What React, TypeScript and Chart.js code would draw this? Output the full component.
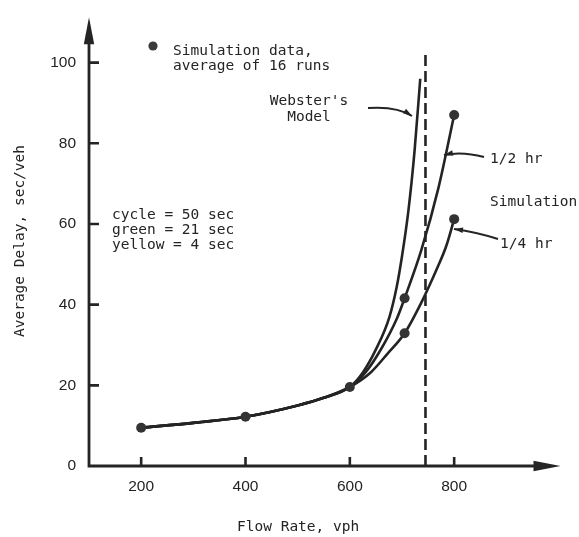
import React, { useEffect, useRef } from "react";
import { Chart, registerables } from "chart.js";

Chart.register(...registerables);

// Simulated average delay (sec/veh) against flow rate (vph), average of 16 runs
const simFlow = [200, 400, 600, 705, 705, 800, 800];
const simDelay = [9.5, 12.2, 19.6, 41.6, 32.9, 87, 61.2];

// Common low-flow part of every delay curve
const baseFlow = [200, 300, 400, 500, 550, 600];
const baseDelay = [9.5, 10.7, 12.2, 15.0, 16.9, 19.6];

// Branches above 600 vph
const websterFlow = [625, 650, 676, 690, 700, 712, 724, 735];
const websterDelay = [23.2, 28.9, 37, 44.5, 52, 63, 78, 96];

const halfHourFlow = [630, 660, 690, 705, 737, 770, 800];
const halfHourDelay = [23.2, 29, 36.5, 41.6, 53.5, 69, 87];

const quarterHourFlow = [640, 672, 705, 737, 769, 785, 800];
const quarterHourDelay = [23.2, 27.8, 32.9, 40.5, 49.5, 54.6, 61.2];

// Capacity flow (dashed vertical)
const capacityFlow = [745, 745];
const capacityDelay = [0, 102];

const xTicks = [200, 400, 600, 800];
const yTicks = [0, 20, 40, 60, 80, 100];

const ink = "#242424";
const monoFont = '"DejaVu Sans Mono", "Liberation Mono", monospace';
const tickFont = '"Liberation Sans", Arial, sans-serif';

const toPoints = (xs: number[], ys: number[]) => xs.map((x, i) => ({ x, y: ys[i] }));

function arrowHead(ctx: CanvasRenderingContext2D, tx: number, ty: number, fx: number, fy: number, len: number, half: number) {
  const a = Math.atan2(ty - fy, tx - fx);
  const bx = tx - len * Math.cos(a);
  const by = ty - len * Math.sin(a);
  ctx.beginPath();
  ctx.moveTo(tx, ty);
  ctx.lineTo(bx + half * Math.sin(a), by - half * Math.cos(a));
  ctx.lineTo(bx - half * Math.sin(a), by + half * Math.cos(a));
  ctx.closePath();
  ctx.fill();
}

function curvedArrow(ctx: CanvasRenderingContext2D, sx: number, sy: number, cx: number, cy: number, tx: number, ty: number) {
  ctx.beginPath();
  ctx.moveTo(sx, sy);
  ctx.quadraticCurveTo(cx, cy, tx, ty);
  ctx.stroke();
  arrowHead(ctx, tx, ty, cx, cy, 9, 2.8);
}

const figureDecorations = {
  id: "figureDecorations",
  afterDraw(chart: any) {
    const { ctx, chartArea, scales } = chart;
    const xs = scales.x;
    const ys = scales.y;
    const left = chartArea.left;
    const bottom = chartArea.bottom;
    ctx.save();
    ctx.strokeStyle = ink;
    ctx.fillStyle = ink;

    // Axes with arrowheads
    ctx.lineWidth = 2.8;
    const yTip = chartArea.top - 5;
    const xTip = chartArea.right + 2;
    ctx.beginPath();
    ctx.moveTo(left, bottom + 1.4);
    ctx.lineTo(left, yTip + 20);
    ctx.moveTo(left - 1.4, bottom);
    ctx.lineTo(xTip - 20, bottom);
    ctx.stroke();
    arrowHead(ctx, left, yTip, left, yTip + 30, 27, 5.2);
    arrowHead(ctx, xTip, bottom, xTip - 30, bottom, 27, 5.2);

    // Inward tick marks
    ctx.lineWidth = 2.6;
    ctx.beginPath();
    yTicks.forEach((v) => {
      if (v === 0) return;
      const py = ys.getPixelForValue(v);
      ctx.moveTo(left, py);
      ctx.lineTo(left + 10, py);
    });
    xTicks.forEach((v) => {
      const px = xs.getPixelForValue(v);
      ctx.moveTo(px, bottom);
      ctx.lineTo(px, bottom - 9);
    });
    ctx.stroke();

    // Axis titles
    ctx.font = `14.5px ${monoFont}`;
    ctx.textBaseline = "alphabetic";
    ctx.textAlign = "left";
    ctx.fillText("Flow Rate, vph", 237, 531);
    ctx.save();
    ctx.translate(23.5, 241);
    ctx.rotate(-Math.PI / 2);
    ctx.textAlign = "center";
    ctx.fillText("Average Delay, sec/veh", 0, 0);
    ctx.restore();

    // Legend
    ctx.beginPath();
    ctx.arc(153, 46, 4.6, 0, Math.PI * 2);
    ctx.fillStyle = "#3a3a3a";
    ctx.fill();
    ctx.fillStyle = ink;
    ctx.fillText("Simulation data,", 173, 55);
    ctx.fillText("average of 16 runs", 173, 69.5);

    // Signal timing note
    ctx.fillText("cycle = 50 sec", 112, 219);
    ctx.fillText("green = 21 sec", 112, 234);
    ctx.fillText("yellow = 4 sec", 112, 249);

    // Curve labels
    ctx.textAlign = "center";
    ctx.fillText("Webster's", 309, 105);
    ctx.fillText("Model", 309, 121);
    ctx.textAlign = "left";
    ctx.fillText("1/2 hr", 490, 163);
    ctx.fillText("Simulation", 490, 205.5);
    ctx.fillText("1/4 hr", 500, 248);

    // Pointer arrows
    ctx.lineWidth = 2;
    curvedArrow(ctx, 368, 108, 397, 106, 412, 116);
    curvedArrow(ctx, 484, 157, 462, 151, 444, 155);
    curvedArrow(ctx, 498, 239, 476, 232, 454, 229);

    ctx.restore();
  },
};

export default function App() {
  const canvasRef = useRef<HTMLCanvasElement | null>(null);

  useEffect(() => {
    const canvas = canvasRef.current;
    if (!canvas) return;

    const curve = (xs: number[], ys: number[]) => ({
      data: toPoints(baseFlow.concat(xs), baseDelay.concat(ys)),
      showLine: true,
      borderColor: ink,
      borderWidth: 2.6,
      pointRadius: 0,
      cubicInterpolationMode: "monotone" as const,
    });

    const chart = new Chart(canvas, {
      type: "scatter",
      data: {
        datasets: [
          {
            label: "Simulation data",
            data: toPoints(simFlow, simDelay),
            showLine: false,
            pointRadius: 5,
            pointBackgroundColor: "#333333",
            pointBorderColor: "#333333",
            pointBorderWidth: 0,
          },
          { label: "Webster's Model", ...curve(websterFlow, websterDelay) },
          { label: "1/2 hr", ...curve(halfHourFlow, halfHourDelay) },
          { label: "1/4 hr", ...curve(quarterHourFlow, quarterHourDelay) },
          {
            label: "Capacity",
            data: toPoints(capacityFlow, capacityDelay),
            showLine: true,
            borderColor: ink,
            borderWidth: 2.6,
            borderDash: [11, 5],
            pointRadius: 0,
          },
        ],
      },
      options: {
        animation: false,
        responsive: false,
        devicePixelRatio: 1,
        layout: { padding: { top: 11.7, right: 20.5, left: 0, bottom: 0 } },
        plugins: {
          legend: { display: false },
          tooltip: { enabled: false },
        },
        scales: {
          x: {
            type: "linear",
            min: 100,
            max: 1000,
            afterBuildTicks: (scale: any) => {
              scale.ticks = xTicks.map((value) => ({ value }));
            },
            afterFit: (scale: any) => {
              scale.height = 71;
            },
            grid: { display: false, drawTicks: false },
            border: { display: false },
            ticks: {
              color: ink,
              padding: 11,
              maxRotation: 0,
              font: { family: tickFont, size: 15.5 },
            },
          },
          y: {
            type: "linear",
            min: 0,
            max: 110,
            afterBuildTicks: (scale: any) => {
              scale.ticks = yTicks.map((value) => ({ value }));
            },
            afterFit: (scale: any) => {
              scale.width = 89;
            },
            grid: { display: false, drawTicks: false },
            border: { display: false },
            ticks: {
              color: ink,
              padding: 13,
              font: { family: tickFont, size: 15.5 },
            },
          },
        },
      },
      plugins: [figureDecorations],
    });

    return () => chart.destroy();
  }, []);

  return (
    <div style={{ position: "absolute", left: 0, top: 0, width: 579, height: 537, background: "#ffffff" }}>
      <canvas ref={canvasRef} width={579} height={537} style={{ display: "block" }} />
    </div>
  );
}
